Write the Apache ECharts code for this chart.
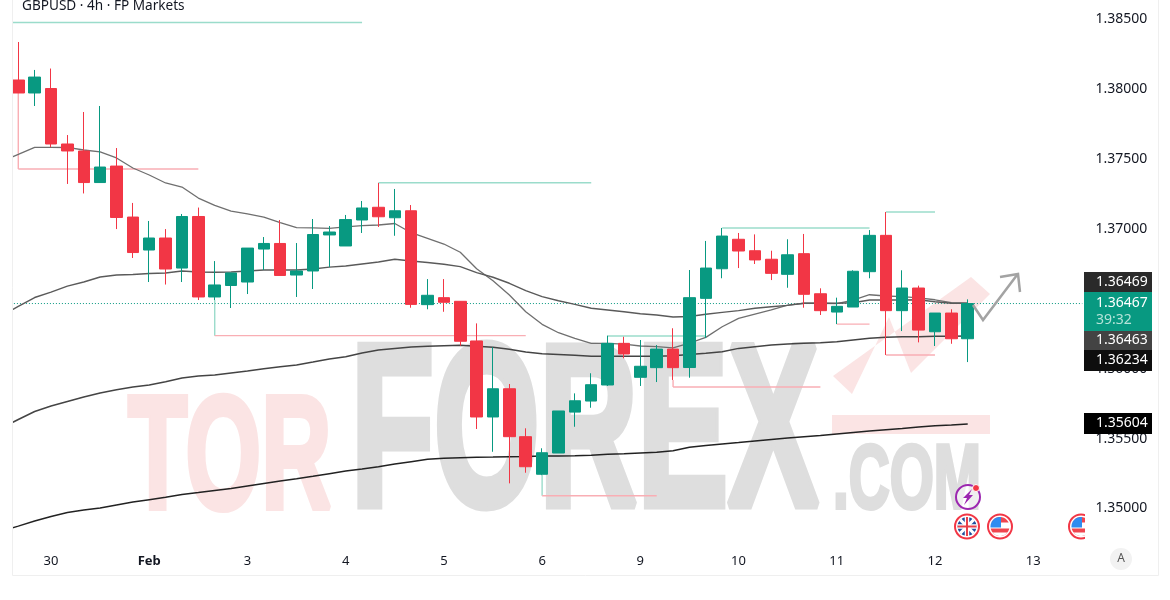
<!DOCTYPE html>
<html>
<head>
<meta charset="utf-8">
<title>GBPUSD 4h</title>
<script src="https://cdn.jsdelivr.net/npm/echarts@6/dist/echarts.min.js"></script>
<style>
html,body{margin:0;padding:0;background:#fff;}
#main{width:1170px;height:600px;}
</style>
</head>
<body>
<div id="main"></div>
<script>
// day labels: index in the category axis -> text
var dayTickIndex=[3,9,15,21,27,33,39,45,51,57,63];
var dayTickLabels=['30','Feb','3','4','5','6','9','10','11','12','13'];

// candles, oldest first
var opens=[1.38067,1.37974,1.38006,1.37609,1.37559,1.37333,1.37451,1.37086,1.36850,1.36936,
1.36721,1.37090,1.36514,1.36596,1.36621,1.36857,1.36897,1.36671,1.36700,1.36958,
1.36879,1.37065,1.37156,1.37081,1.37131,1.36459,1.36509,1.36483,1.36199,1.35655,
1.35857,1.35514,1.35245,1.35397,1.35690,1.35769,1.35884,1.36182,1.35939,1.36008,
1.36141,1.36009,1.36504,1.36716,1.36927,1.36845,1.36784,1.36676,1.36824,1.36537,
1.36406,1.36442,1.36695,1.36955,1.36416,1.36578,1.36265,1.36399,1.36215];
var closes=[1.37974,1.38088,1.37609,1.37559,1.37333,1.37444,1.37083,1.36832,1.36936,1.36714,
1.37090,1.36514,1.36600,1.36686,1.36864,1.36897,1.36668,1.36700,1.36961,1.36979,
1.37068,1.37151,1.37088,1.37131,1.36461,1.36526,1.36476,1.36197,1.35655,1.35857,
1.35514,1.35299,1.35399,1.35698,1.35771,1.35886,1.36182,1.36106,1.36018,1.36141,
1.36008,1.36509,1.36721,1.36950,1.36843,1.36779,1.36683,1.36816,1.36533,1.36416,
1.36447,1.36698,1.36955,1.36416,1.36578,1.36277,1.36399,1.36215,1.36467];
var lows=[1.37974,1.37881,1.37587,1.37323,1.37255,1.37330,1.37000,1.36793,1.36621,1.36603,
1.36621,1.36492,1.36492,1.36435,1.36535,1.36707,1.36668,1.36514,1.36571,1.36728,
1.36879,1.36972,1.37015,1.36952,1.36437,1.36426,1.36408,1.36165,1.35569,1.35406,
1.35180,1.35256,1.35239,1.35397,1.35585,1.35721,1.35877,1.36075,1.35877,1.35905,
1.35920,1.35936,1.36220,1.36648,1.36721,1.36750,1.36635,1.36580,1.36437,1.36385,
1.36320,1.36442,1.36648,1.36099,1.36270,1.36189,1.36163,1.36179,1.36048];
var highs=[1.38339,1.38139,1.38149,1.37673,1.37838,1.37881,1.37580,1.37187,1.37058,1.37000,
1.37108,1.37154,1.36771,1.36686,1.36864,1.36943,1.37065,1.36900,1.37072,1.37022,
1.37101,1.37201,1.37330,1.37287,1.37172,1.36642,1.36642,1.36485,1.36325,1.36154,
1.35891,1.35574,1.35431,1.35698,1.35824,1.35968,1.36237,1.36229,1.36206,1.36170,
1.36290,1.36707,1.36915,1.37008,1.36972,1.36962,1.36845,1.36927,1.36965,1.36576,
1.36509,1.36705,1.36993,1.37122,1.36705,1.36595,1.36399,1.36426,1.36497];

// moving averages, first value sits one bar before the first candle
var maFast=[1.37484,1.37534,1.37585,1.37585,1.37584,1.37566,1.37552,1.37509,1.37437,1.37387,
1.37330,1.37301,1.37222,1.37169,1.37129,1.37108,1.37086,1.37046,1.37010,1.37008,
1.37005,1.37015,1.37024,1.37029,1.37040,1.36974,1.36934,1.36893,1.36834,1.36716,
1.36630,1.36528,1.36408,1.36318,1.36258,1.36218,1.36182,1.36182,1.36177,1.36163,
1.36158,1.36149,1.36184,1.36225,1.36301,1.36361,1.36392,1.36421,1.36456,1.36469,
1.36469,1.36466,1.36492,1.36530,1.36521,1.36516,1.36507,1.36494,1.36473,1.36469];
var maMid=[1.36381,1.36446,1.36510,1.36549,1.36592,1.36621,1.36657,1.36671,1.36675,1.36682,
1.36686,1.36700,1.36693,1.36691,1.36693,1.36700,1.36707,1.36707,1.36707,1.36714,
1.36728,1.36736,1.36750,1.36764,1.36784,1.36771,1.36761,1.36748,1.36731,1.36688,
1.36655,1.36612,1.36559,1.36516,1.36487,1.36461,1.36433,1.36421,1.36408,1.36394,
1.36385,1.36371,1.36374,1.36390,1.36404,1.36416,1.36433,1.36444,1.36454,1.36469,
1.36469,1.36469,1.36473,1.36492,1.36492,1.36492,1.36494,1.36480,1.36469,1.36469];
var maSlow=[1.35578,1.35637,1.35694,1.35733,1.35766,1.35798,1.35827,1.35850,1.35870,1.35884,
1.35907,1.35934,1.35948,1.35955,1.35970,1.35984,1.36000,1.36015,1.36027,1.36048,
1.36070,1.36086,1.36113,1.36134,1.36146,1.36156,1.36161,1.36165,1.36168,1.36161,
1.36154,1.36139,1.36120,1.36108,1.36103,1.36096,1.36089,1.36089,1.36089,1.36089,
1.36089,1.36094,1.36102,1.36111,1.36122,1.36146,1.36158,1.36170,1.36177,1.36182,
1.36187,1.36194,1.36206,1.36218,1.36225,1.36230,1.36230,1.36232,1.36232,1.36234];
var maLong=[1.34839,1.34874,1.34910,1.34943,1.34971,1.34989,1.35003,1.35025,1.35046,1.35063,
1.35080,1.35100,1.35114,1.35129,1.35143,1.35161,1.35179,1.35197,1.35213,1.35230,
1.35249,1.35268,1.35283,1.35299,1.35318,1.35335,1.35352,1.35359,1.35363,1.35366,
1.35368,1.35371,1.35373,1.35376,1.35376,1.35378,1.35381,1.35388,1.35392,1.35397,
1.35402,1.35414,1.35438,1.35451,1.35462,1.35472,1.35483,1.35494,1.35504,1.35513,
1.35522,1.35533,1.35544,1.35555,1.35564,1.35572,1.35583,1.35592,1.35597,1.35604];

// swing lines: [from bar, from price, to bar, to price]
var swingGreen=[[0,1.38479,22,1.38479],[23,1.37332,36,1.37332],[13,1.36492,13,1.36237],
[44,1.37008,53,1.37008],[54,1.37122,57,1.37122],[37,1.36235,43,1.36235],[33,1.35239,33,1.35091]];
var swingRed=[[1,1.37974,1,1.37430],[1,1.37430,12,1.37430],[13,1.36237,32,1.36237],
[33,1.35091,40,1.35091],[41,1.35920,41,1.35870],[41,1.35870,50,1.35870],
[54,1.36099,57,1.36099],[51,1.36320,53,1.36320]];

var lastPrice=1.36467;
var lastPriceLine=[[0,lastPrice,66,lastPrice]];
var barCount=67;

// price tags on the right scale, [text, top, height, colour]
var priceTags=[['1.36469',272,20,'#2a2a2a'],['1.36463',331,19,'#434343'],['1.36234',350,21,'#0e0e0e'],['1.35604',413,21,'#000000']];

var green='#089981';
var red='#F23645';

var categories=[];
for(var i=0;i<barCount;i++){categories.push('');}
dayTickIndex.forEach(function(idx,k){categories[idx]=dayTickLabels[k];});

var candles=[['-','-','-','-']];
opens.forEach(function(o,k){candles.push([o,closes[k],lows[k],highs[k]]);});

function swingSeries(rows,color,dash,width){
  return {
    type:'custom',
    coordinateSystem:'cartesian2d',
    z:2,
    silent:true,
    data:rows,
    encode:{x:[0,2],y:[1,3]},
    renderItem:function(params,api){
      var a=api.coord([api.value(0),api.value(1)]);
      var b=api.coord([api.value(2),api.value(3)]);
      return {type:'line',shape:{x1:a[0],y1:a[1],x2:b[0],y2:b[1]},style:{stroke:color,lineWidth:width,lineDash:dash}};
    }
  };
}

function maSeries(values,color,width){
  return {type:'line',data:values,symbol:'none',z:2,silent:true,lineStyle:{color:color,width:width}};
}

// part of a disc inside a box, used for the flags
function discPart(cx,cy,r,x0,y0,x1,y1){
  var pts=[];
  for(var a=0;a<360;a+=6){
    var x=cx+r*Math.cos(a*Math.PI/180),y=cy+r*Math.sin(a*Math.PI/180);
    pts.push([Math.min(x1,Math.max(x0,x)),Math.min(y1,Math.max(y0,y))]);
  }
  return {type:'polygon',shape:{points:pts}};
}

function usFlag(cx,cy){
  var r=9.5;
  function part(x0,y0,x1,y1,c){
    var p=discPart(cx,cy,r,x0,y0,x1,y1);
    p.style={fill:c};p.z=30;return p;
  }
  return [
    {type:'circle',z:29,shape:{cx:cx,cy:cy,r:12},style:{fill:'#fff',stroke:red,lineWidth:2}},
    part(cx-r,cy-r,cx+r,cy-4,'#f0454f'),
    part(cx-r,cy+2,cx+r,cy+r,'#f0454f'),
    part(cx-r,cy+6,cx+r,cy+r,'#ffffff'),
    part(cx-r,cy-r,cx+1,cy+1,'#2f8cf0')
  ];
}

function ukFlag(cx,cy){
  var r=9.5,d=r*0.72;
  function bar(x1,y1,x2,y2,c,w){
    return {type:'line',z:31,shape:{x1:x1,y1:y1,x2:x2,y2:y2},style:{stroke:c,lineWidth:w}};
  }
  return [
    {type:'circle',z:29,shape:{cx:cx,cy:cy,r:12},style:{fill:'#fff',stroke:red,lineWidth:2}},
    {type:'circle',z:30,shape:{cx:cx,cy:cy,r:r},style:{fill:'#1f4f9e'}},
    bar(cx-d,cy-d,cx+d,cy+d,'#fff',3),
    bar(cx-d,cy+d,cx+d,cy-d,'#fff',3),
    bar(cx-r,cy,cx+r,cy,'#fff',4.5),
    bar(cx,cy-r,cx,cy+r,'#fff',4.5),
    bar(cx-r,cy,cx+r,cy,'#e8404a',2),
    bar(cx,cy-r,cx,cy+r,'#e8404a',2)
  ];
}

var watermarkPink='#fbe4e4';
var watermarkGrey='#dedede';

// y is the baseline of the big letters
function bigText(txt,x,base,size,sx,color,heavy){
  return {type:'text',z:0,silent:true,x:x,y:base+size*0.204,scaleX:sx,
    style:{text:txt,fill:color,stroke:color,lineWidth:heavy,
      font:'bold '+size+'px "Liberation Sans"',verticalAlign:'bottom'}};
}

var graphics=[
  // watermark
  bigText('TOR',128,511,162,0.6,watermarkPink,6),
  bigText('FOREX',351,510,230,0.59,watermarkGrey,9),
  bigText('.COM',833,510,90,0.63,watermarkGrey,4),
  {type:'polygon',z:0,silent:true,shape:{points:[[833,376],[971,277],[990,294],[911,373],[889,317],[852,394]]},style:{fill:watermarkPink}},
  {type:'rect',z:0,silent:true,shape:{x:832,y:415,width:158,height:19},style:{fill:watermarkPink}},
  // arrow drawn on the chart
  {type:'polyline',z:20,shape:{points:[[973,305],[983,320],[1017,275]]},style:{stroke:'#a3a3a3',lineWidth:2.5,fill:null}},
  {type:'polyline',z:20,shape:{points:[[1000,277],[1018,274],[1020,292]]},style:{stroke:'#a3a3a3',lineWidth:2.5,fill:null}},
  // event icons
  {type:'circle',z:29,shape:{cx:968,cy:497,r:12},style:{fill:'rgba(255,255,255,0.5)',stroke:'#9c27b0',lineWidth:2}},
  {type:'polygon',z:30,shape:{points:[[972,489],[963,498],[967,498],[964,505],[973,495],[969,495]]},style:{fill:'#9c27b0'}},
  {type:'circle',z:31,shape:{cx:976,cy:488,r:3.5},style:{fill:red,stroke:'#fff',lineWidth:1}}
];
graphics=graphics.concat(ukFlag(967,526.5),usFlag(1000,526.5),usFlag(1081,526.5));
graphics=graphics.concat([
  // plot edges
  {type:'rect',z:40,shape:{x:0,y:0,width:12,height:600},style:{fill:'#fff'}},
  {type:'rect',z:40,shape:{x:1085,y:0,width:9,height:575},style:{fill:'#fff'}},
  {type:'polyline',z:41,shape:{points:[[12.5,0],[12.5,575.5],[1158.5,575.5],[1158.5,0]]},style:{stroke:'#efefef',lineWidth:1,fill:null}},
  // title, cut by the top of the picture
  {type:'text',z:42,x:22,y:13,style:{text:'GBPUSD · 4h · FP Markets',fill:'#131722',font:'13.6px "Noto Sans"',verticalAlign:'bottom'}},
  // last price tag
  {type:'rect',z:50,shape:{x:1084,y:292,width:68,height:39},style:{fill:green}},
  {type:'text',z:51,x:1096,y:303,style:{text:'1.36467',fill:'#fff',font:'14px "Noto Sans"',verticalAlign:'middle'}},
  {type:'text',z:51,x:1096,y:320,style:{text:'39:32',fill:'#b5e3d8',font:'14px "Noto Sans"',verticalAlign:'middle'}},
  // auto button
  {type:'circle',z:50,shape:{cx:1121,cy:559,r:11},style:{fill:'#f2f2f2'}},
  {type:'text',z:51,x:1121,y:559,style:{text:'A',fill:'#555',font:'12px "Noto Sans"',align:'center',verticalAlign:'middle'}}
]);
priceTags.forEach(function(t){
  graphics.push({type:'rect',z:50,shape:{x:1084,y:t[1],width:68,height:t[2]},style:{fill:t[3]}});
  graphics.push({type:'text',z:51,x:1096,y:t[1]+t[2]/2,style:{text:t[0],fill:'#fff',font:'14px "Noto Sans"',verticalAlign:'middle'}});
});

var myChart=echarts.init(document.getElementById('main'));

var option={
  animation:false,
  backgroundColor:'#fff',
  grid:{left:-6.27,top:-50.35,right:79.5,bottom:21.65,outerBoundsMode:'none'},
  xAxis:{
    type:'category',
    data:categories,
    boundaryGap:true,
    axisLine:{show:false},
    axisTick:{show:false},
    splitLine:{show:false},
    axisLabel:{
      inside:true,
      margin:11,
      interval:0,
      color:'#131722',
      fontFamily:'Noto Sans',
      fontSize:13,
      formatter:function(v){return v==='Feb'?'{b|Feb}':v;},
      rich:{b:{fontWeight:'bold',fontSize:13,color:'#131722',fontFamily:'Noto Sans'}}
    }
  },
  yAxis:{
    type:'value',
    position:'right',
    min:1.345,
    max:1.39,
    interval:0.005,
    axisLine:{show:false},
    axisTick:{show:false},
    splitLine:{show:false},
    axisLabel:{
      margin:5,
      padding:[3,0,0,0],
      color:'#131722',
      fontFamily:'Noto Sans',
      fontSize:14,
      formatter:function(v){
        if(v<1.349||v>1.389){return '';}
        return v.toFixed(5);
      }
    }
  },
  series:[
    swingSeries(lastPriceLine,green,[1,2],1),
    maSeries(maFast,'#6f6f6f',1.3),
    maSeries(maMid,'#5a5a5a',1.4),
    maSeries(maSlow,'#444444',1.5),
    maSeries(maLong,'#222222',1.5),
    swingSeries(swingGreen,'#9bdccb',null,1.4),
    swingSeries(swingRed,'#f9aeb4',null,1.4),
    {
      type:'candlestick',
      z:3,
      silent:true,
      barWidth:12,
      data:candles,
      itemStyle:{color:green,color0:red,borderColor:green,borderColor0:red,borderWidth:1}
    }
  ],
  graphic:{elements:graphics}
};

myChart.setOption(option);
</script>
</body>
</html>
